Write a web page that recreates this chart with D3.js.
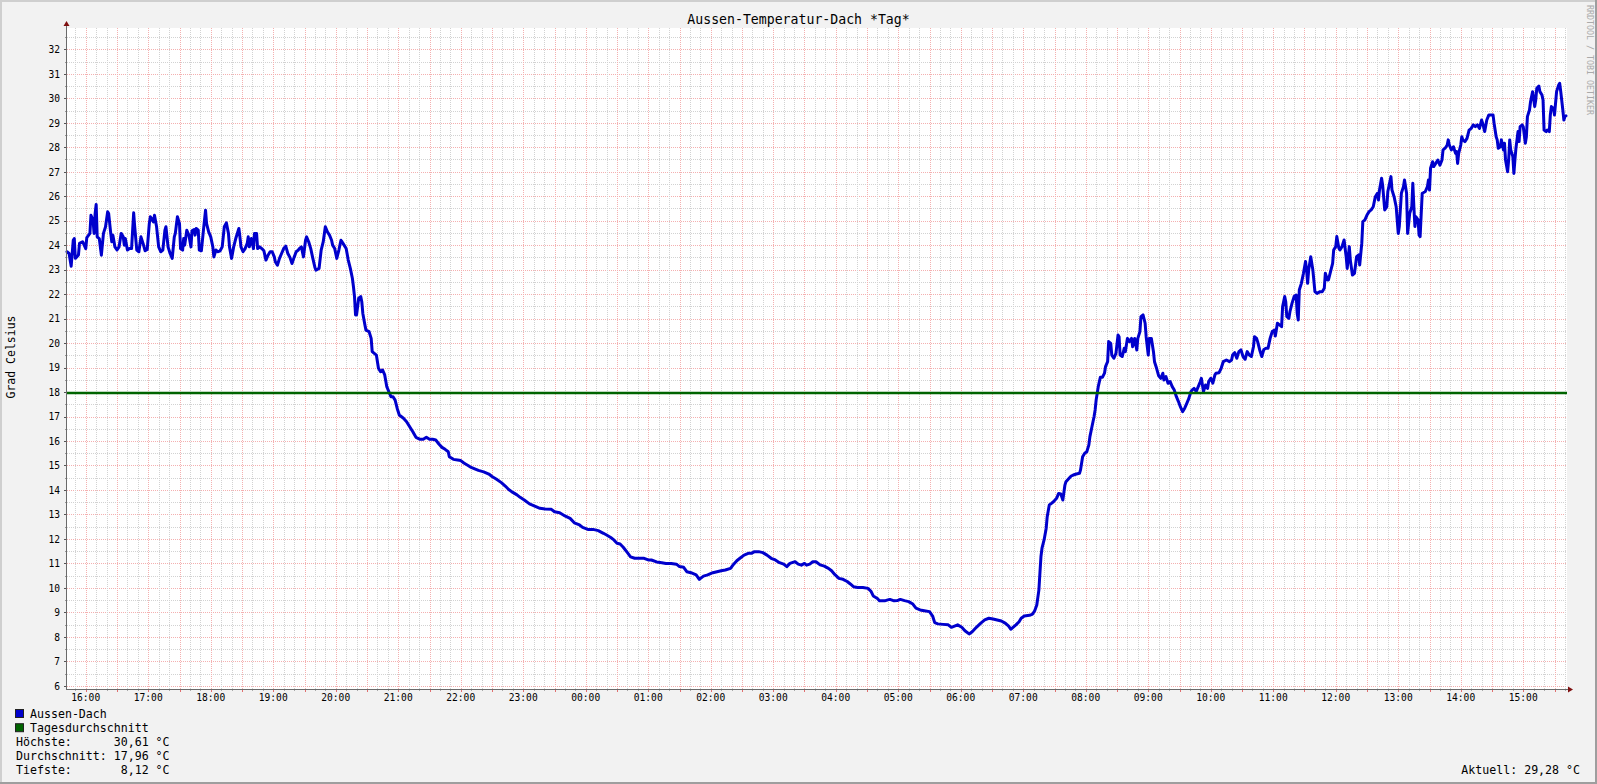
<!DOCTYPE html>
<html><head><meta charset="utf-8">
<script src="https://cdn.jsdelivr.net/npm/d3@7"></script>
<style>
html,body{margin:0;padding:0;background:#f2f2f2;overflow:hidden}
svg text{font-family:"DejaVu Sans Mono",monospace;}
</style></head><body>
<svg id="chart" width="1597" height="784"></svg>
<script>
// ---------------- data ----------------
const times = [
"15:42","15:44","15:46","15:48","15:49","15:50","15:53","15:54","15:57","16:00","16:01","16:04","16:05","16:07","16:08","16:09","16:10","16:11","16:13","16:15","16:17","16:19","16:21","16:22","16:24","16:25","16:26","16:28","16:30","16:32","16:34","16:36","16:37","16:38","16:40","16:42","16:44","16:45","16:46","16:47","16:49","16:51","16:53","16:55","16:57","16:59",
"17:01","17:02","17:05","17:06","17:08","17:10","17:12","17:14","17:16","17:17","17:19","17:21","17:23","17:25","17:26","17:28","17:30","17:31","17:33","17:34","17:35","17:37","17:39","17:41","17:42","17:44","17:45","17:46","17:48","17:49","17:51","17:53","17:55","17:56","17:58",
"18:00","18:02","18:03","18:05","18:07","18:09","18:11","18:13","18:15","18:17","18:18","18:20","18:22","18:24","18:27","18:28","18:29","18:31","18:33","18:35","18:36","18:37","18:39","18:41","18:42","18:44","18:45","18:47","18:49","18:51","18:53","18:55","18:57","18:59",
"19:01","19:02","19:04","19:06","19:08","19:10","19:12","19:14","19:16","19:18","19:20","19:22","19:24","19:25","19:27","19:29","19:31","19:32","19:34","19:36","19:38","19:40","19:41","19:44","19:46","19:48","19:50","19:52","19:54","19:56","19:57","19:59",
"20:01","20:03","20:05","20:06","20:08","20:10","20:12","20:14","20:16","20:17","20:18","20:19","20:20","20:22","20:24","20:25","20:26","20:28","20:29","20:32","20:34","20:35","20:37","20:39","20:41","20:43","20:45","20:47","20:49","20:51","20:53","20:55","20:57","20:59",
"21:01","21:05","21:08","21:11","21:14","21:17","21:21","21:24","21:27","21:30","21:33","21:36","21:39","21:42","21:45","21:48","21:49","21:53","21:57",
"22:00","22:03","22:07","22:10","22:14","22:17","22:22","22:27","22:30","22:34","22:39","22:43","22:46","22:50","22:54","22:57",
"23:01","23:06","23:11","23:16","23:21","23:27","23:30","23:35","23:40","23:45","23:49","23:54","23:57",
"00:02","00:07","00:12","00:17","00:20","00:24","00:27","00:30","00:33","00:36","00:40","00:43","00:47","00:52","00:56",
"01:00","01:03","01:08","01:13","01:17","01:22","01:27","01:30","01:34","01:37","01:41","01:46","01:49","01:53","01:57",
"02:02","02:06","02:10","02:14","02:19","02:22","02:25","02:28","02:32","02:36","02:39","02:42","02:46","02:50","02:54","02:58",
"03:02","03:06","03:10","03:13","03:16","03:21","03:24","03:27","03:30","03:32","03:35","03:38","03:41","03:45","03:49","03:53","03:56","03:59",
"04:03","04:07","04:11","04:14","04:17","04:21","04:26","04:31","04:34","04:36","04:40","04:42","04:47","04:50","04:52","04:56","04:59",
"05:02","05:06","05:10","05:14","05:17","05:21","05:25","05:30","05:33","05:35","05:38","05:43","05:48","05:51","05:54","05:57",
"06:01","06:04","06:08","06:11","06:15","06:19","06:23","06:27","06:31","06:35","06:39","06:43","06:46","06:48","06:51","06:53","06:56","06:58",
"07:01","07:06","07:09","07:11","07:13","07:15","07:16","07:17","07:18","07:20","07:22","07:23","07:25","07:27","07:29","07:32","07:34","07:36","07:38","07:40","07:41","07:44","07:46","07:48","07:51","07:54","07:55","07:57","07:59",
"08:01","08:03","08:04","08:06","08:08","08:09","08:10","08:12","08:14","08:16","08:18","08:19","08:21","08:22","08:24","08:25","08:27","08:29","08:31","08:32","08:33","08:35","08:37","08:38","08:40","08:42","08:44","08:45","08:47","08:49","08:50","08:52","08:53","08:55","08:57","08:58",
"09:00","09:01","09:03","09:05","09:06","09:08","09:10","09:12","09:14","09:15","09:17","09:19","09:21","09:23","09:25","09:27","09:29","09:31","09:33","09:35","09:37","09:39","09:41","09:42","09:44","09:46","09:48","09:50","09:51","09:53","09:55","09:57","09:58",
"10:00","10:02","10:04","10:05","10:08","10:10","10:12","10:15","10:18","10:20","10:21","10:23","10:25","10:27","10:29","10:31","10:33","10:35","10:37","10:39","10:41","10:42","10:44","10:45","10:47","10:49","10:51","10:53","10:55","10:57","10:59",
"11:01","11:02","11:04","11:06","11:08","11:09","11:11","11:12","11:13","11:15","11:16","11:18","11:20","11:22","11:23","11:24","11:25","11:27","11:29","11:31","11:32","11:33","11:34","11:36","11:38","11:40","11:42","11:45","11:47","11:49","11:50","11:52","11:53","11:55","11:57","11:58",
"12:00","12:01","12:03","12:04","12:06","12:08","12:10","12:11","12:13","12:14","12:16","12:18","12:20","12:22","12:23","12:25","12:26","12:28","12:30","12:32","12:34","12:36","12:38","12:40","12:41","12:42","12:44","12:45","12:47","12:49","12:50","12:53","12:54","12:56","12:58",
"13:00","13:01","13:03","13:05","13:06","13:08","13:09","13:11","13:13","13:14","13:15","13:16","13:17","13:19","13:20","13:21","13:23","13:24","13:26","13:28","13:29","13:30","13:31","13:33","13:34","13:36","13:38","13:40","13:42","13:43","13:45","13:47","13:48","13:49","13:51","13:53","13:55","13:56","13:57","13:58",
"14:00","14:01","14:02","14:04","14:06","14:08","14:10","14:12","14:14","14:16","14:18","14:20","14:21","14:23","14:25","14:27","14:29","14:31","14:32","14:34","14:35","14:36","14:38","14:39","14:41","14:42","14:43","14:45","14:46","14:47","14:48","14:50","14:51","14:52","14:53","14:55","14:56","14:57","14:59",
"15:00","15:02","15:03","15:04","15:06","15:07","15:08","15:09","15:11","15:12","15:13","15:15","15:16","15:18","15:19","15:20","15:22","15:23","15:25","15:26","15:27","15:29","15:30","15:31","15:32","15:34","15:35","15:36","15:38","15:39","15:40","15:41"
];
const temps = [
23.73,23.66,23.14,24.20,24.27,23.46,23.60,24.07,24.14,23.86,24.31,24.48,25.22,25.02,24.48,25.29,25.66,24.34,24.27,23.59,24.48,24.75,25.36,25.29,24.48,24.14,24.41,23.93,23.80,23.93,24.48,24.34,24.00,24.27,23.80,23.86,23.86,24.61,25.32,24.75,23.80,23.73,24.34,24.07,23.77,23.82,
24.88,25.16,24.95,25.22,24.75,23.93,23.73,23.80,24.61,24.75,23.93,23.66,23.46,24.34,24.48,25.16,24.88,23.86,23.80,24.27,24.00,24.61,24.41,23.93,24.59,24.64,24.41,24.68,24.61,23.80,23.77,24.61,25.43,24.88,24.54,
24.34,23.93,23.52,23.80,23.73,23.77,23.93,24.75,24.91,24.48,23.93,23.46,23.93,24.27,24.68,24.34,23.93,23.73,23.86,24.07,24.34,23.93,24.27,23.86,24.48,24.48,23.86,23.93,23.86,23.77,23.39,23.59,23.73,23.73,
23.52,23.32,23.18,23.46,23.66,23.86,23.96,23.66,23.50,23.25,23.50,23.73,23.80,23.86,23.93,23.52,24.20,24.34,24.14,23.86,23.46,23.09,22.98,23.05,23.80,24.14,24.75,24.54,24.41,24.20,24.00,23.86,
23.46,23.80,24.20,24.14,24.00,23.86,23.39,23.05,22.64,22.30,21.90,21.15,21.15,21.83,21.90,21.69,21.21,20.74,20.53,20.47,20.19,19.65,19.58,19.51,18.97,18.83,18.90,18.70,18.22,18.01,17.81,17.81,17.67,17.33,
17.06,16.93,16.79,16.58,16.38,16.15,16.07,16.07,16.15,16.07,16.07,16.04,15.88,15.74,15.66,15.56,15.36,15.25,15.22,
15.20,15.10,15.00,14.92,14.85,14.80,14.74,14.65,14.55,14.45,14.30,14.15,14.02,13.90,13.80,13.70,
13.59,13.43,13.34,13.25,13.22,13.21,13.11,13.07,12.94,12.84,12.66,12.57,12.47,
12.39,12.39,12.34,12.23,12.16,12.06,11.96,11.82,11.79,11.66,11.44,11.27,11.21,11.21,11.21,
11.14,11.14,11.06,11.03,11.00,11.00,10.97,10.87,10.84,10.66,10.62,10.53,10.35,10.48,10.53,
10.62,10.66,10.70,10.73,10.80,10.97,11.11,11.21,11.34,11.41,11.41,11.48,11.48,11.44,11.34,11.21,
11.14,11.03,10.97,10.87,11.00,11.07,10.97,10.93,11.00,10.93,10.97,11.07,11.07,10.94,10.89,10.80,10.70,10.55,
10.39,10.35,10.26,10.16,10.05,10.02,10.02,9.98,9.85,9.67,9.57,9.47,9.47,9.51,9.53,9.47,9.48,
9.53,9.48,9.44,9.34,9.17,9.10,9.07,9.03,8.85,8.58,8.53,8.51,8.49,8.39,8.44,8.49,
8.39,8.25,8.12,8.21,8.39,8.55,8.69,8.76,8.73,8.69,8.65,8.55,8.44,8.31,8.42,8.49,8.62,8.76,
8.85,8.88,8.93,9.07,9.30,9.91,10.60,11.28,11.62,11.96,12.43,12.91,13.39,13.45,13.52,13.66,13.86,13.84,13.59,14.20,14.34,14.48,14.57,14.61,14.65,14.68,14.82,15.36,15.50,
15.56,15.84,16.18,16.59,17.00,17.27,17.68,18.22,18.60,18.60,18.77,19.04,19.24,20.06,19.99,19.51,19.38,19.58,20.33,20.26,19.51,19.45,19.79,19.65,20.19,20.06,20.19,19.85,20.19,19.72,20.19,20.47,21.08,21.15,20.81,20.26,
19.51,20.19,20.19,19.65,19.24,18.97,18.66,18.56,18.77,18.49,18.63,18.36,18.43,18.22,18.08,17.81,17.61,17.38,17.20,17.34,17.54,17.74,18.02,18.08,18.15,18.02,18.22,18.43,18.56,18.02,18.29,18.15,18.43,
18.56,18.36,18.70,18.77,18.79,18.97,19.24,19.31,19.24,19.31,19.51,19.61,19.38,19.65,19.72,19.45,19.34,19.65,19.51,19.45,19.85,20.26,20.19,20.06,19.72,19.45,19.74,19.79,19.79,20.19,20.47,
20.53,20.29,20.81,20.74,20.67,21.49,21.90,21.69,21.08,21.01,21.28,21.62,21.90,21.96,21.21,20.94,22.17,22.44,22.85,23.33,22.99,22.44,22.99,23.53,22.99,22.10,22.03,22.10,22.10,22.24,22.85,22.58,22.58,22.92,23.26,23.80,
23.94,24.35,23.87,23.80,23.94,24.21,23.53,23.05,23.94,23.39,22.78,22.85,23.53,23.60,23.19,24.08,24.96,25.03,25.23,25.37,25.44,25.57,25.98,26.12,25.84,26.25,26.73,26.46,25.44,25.57,26.19,26.80,26.25,25.98,25.57,
24.48,24.76,26.12,26.39,26.66,26.12,24.48,25.30,25.57,26.53,25.57,24.76,25.16,25.03,24.41,24.35,26.12,26.14,26.19,26.39,26.66,26.25,27.14,27.41,27.21,27.34,27.48,27.27,27.48,27.89,27.96,28.09,28.30,28.09,27.89,28.02,27.75,27.82,27.34,27.75,
28.09,28.43,28.30,28.23,28.36,28.70,28.77,28.91,28.84,28.91,28.77,29.11,28.98,28.64,29.11,29.32,29.32,29.32,28.98,28.43,28.30,27.96,28.02,28.30,27.89,28.16,27.48,27.00,27.48,28.30,27.89,27.62,26.93,27.48,27.96,28.64,28.23,28.84,28.91,
28.84,28.16,28.43,29.25,29.52,29.86,30.07,30.27,29.66,29.93,30.41,30.50,30.27,30.13,29.93,28.70,28.64,28.70,28.64,29.32,29.66,29.59,29.32,29.79,30.27,30.54,30.61,30.27,29.52,29.11,29.25,29.28
];
const dailyAverage = 17.96;
const seriesNames = ["Aussen-Dach", "Tagesdurchschnitt"];
const seriesColors = ["#0000cc", "#006400"];
const statLabels = ["Höchste:", "Durchschnitt:", "Tiefste:"];
const statValues = ["30,61", "17,96", "8,12"];
const currentLabel = "Aktuell: ";
const currentValue = "29,28";
const unit = " °C";
const yTickValues = [6,7,8,9,10,11,12,13,14,15,16,17,18,19,20,21,22,23,24,25,26,27,28,29,30,31,32];
const titleText = "Aussen-Temperatur-Dach *Tag*";
const yAxisTitle = "Grad Celsius";
const watermark = "RRDTOOL / TOBI OETIKER";

// ---------------- layout ----------------
const W = 1597, H = 784;
const P = {left: 67, right: 1567, top: 28, bottom: 689};
const svg = d3.select("#chart");

const start = new Date(2024, 0, 1, 15, 42);
const end = new Date(2024, 0, 2, 15, 42);
let prev = -1, offset = 0;
const data = times.map((t, i) => {
  const [h, m] = t.split(":").map(Number);
  const mins = h * 60 + m;
  if (mins < prev) offset += 1440;
  prev = mins;
  return {date: new Date(2024, 0, 1, 0, mins + offset), value: temps[i]};
});

const x = d3.scaleTime().domain([start, end]).range([P.left, P.right]);
const y = d3.scaleLinear().domain([5.87, 32.87]).range([P.bottom, P.top]);
const px = v => Math.round(v) + 0.5;

// background + 3D border
svg.append("rect").attr("width", W).attr("height", H).attr("fill", "#f2f2f2");
svg.append("rect").attr("x", 0).attr("y", 0).attr("width", W).attr("height", 2).attr("fill", "#cfcfcf");
svg.append("rect").attr("x", 0).attr("y", 0).attr("width", 2).attr("height", H).attr("fill", "#cfcfcf");
svg.append("rect").attr("x", 0).attr("y", H - 2).attr("width", W).attr("height", 2).attr("fill", "#9e9e9e");
svg.append("rect").attr("x", W - 2).attr("y", 0).attr("width", 2).attr("height", H).attr("fill", "#9e9e9e");

// canvas
svg.append("rect").attr("x", P.left).attr("y", P.top).attr("width", P.right - P.left).attr("height", P.bottom - P.top).attr("fill", "#ffffff");

const grid = svg.append("g").attr("shape-rendering", "crispEdges");
const minorCol = "#d2d2d2", majorCol = "#f4b0b0";

// horizontal grid
const yMinor = d3.range(6, 33, 1).map(v => v + 0.5).filter(v => y(v) > P.top);
grid.selectAll(".hmin").data(yMinor).join("line")
  .attr("x1", P.left).attr("x2", P.right).attr("y1", d => px(y(d))).attr("y2", d => px(y(d)))
  .attr("stroke", minorCol).attr("stroke-dasharray", "1,1");
grid.selectAll(".hmaj").data(yTickValues).join("line")
  .attr("x1", P.left).attr("x2", P.right).attr("y1", d => px(y(d))).attr("y2", d => px(y(d)))
  .attr("stroke", majorCol).attr("stroke-dasharray", "1,1");

// vertical grid
const tenMin = d3.timeMinute.every(10).range(start, end);
const vMinor = tenMin.filter(d => d.getMinutes() % 30 !== 0);
const vMajor = tenMin.filter(d => d.getMinutes() % 30 === 0);
grid.selectAll(".vmin").data(vMinor).join("line")
  .attr("x1", d => px(x(d))).attr("x2", d => px(x(d))).attr("y1", P.top).attr("y2", P.bottom)
  .attr("stroke", minorCol).attr("stroke-dasharray", "1,1");
grid.selectAll(".vmaj").data(vMajor).join("line")
  .attr("x1", d => px(x(d))).attr("x2", d => px(x(d))).attr("y1", P.top).attr("y2", P.bottom)
  .attr("stroke", majorCol).attr("stroke-dasharray", "1,1");

// tick marks
grid.selectAll(".ytk").data(yTickValues).join("line")
  .attr("x1", P.left - 3).attr("x2", P.left).attr("y1", d => px(y(d))).attr("y2", d => px(y(d)))
  .attr("stroke", "#555");
grid.selectAll(".ytk2").data(yMinor).join("line")
  .attr("x1", P.left - 2).attr("x2", P.left).attr("y1", d => px(y(d))).attr("y2", d => px(y(d)))
  .attr("stroke", "#999");
grid.selectAll(".xtk").data(vMajor).join("line")
  .attr("x1", d => px(x(d))).attr("x2", d => px(x(d))).attr("y1", P.bottom).attr("y2", P.bottom + 3)
  .attr("stroke", "#e07070");
grid.selectAll(".xtk2").data(vMinor).join("line")
  .attr("x1", d => px(x(d))).attr("x2", d => px(x(d))).attr("y1", P.bottom).attr("y2", P.bottom + 2)
  .attr("stroke", "#aaa");

// data line
const line = d3.line().x(d => x(d.date)).y(d => y(d.value));
svg.append("path").datum(data).attr("d", line)
  .attr("fill", "none").attr("stroke", seriesColors[0]).attr("stroke-width", 3)
  .attr("stroke-linejoin", "round").attr("stroke-linecap", "round");

// daily average line
svg.append("line").attr("x1", P.left).attr("x2", P.right)
  .attr("y1", y(dailyAverage)).attr("y2", y(dailyAverage))
  .attr("stroke", seriesColors[1]).attr("stroke-width", 2.4);

// axes
const axis = svg.append("g");
axis.append("line").attr("x1", px(P.left - 1)).attr("x2", px(P.left - 1)).attr("y1", P.bottom + 1).attr("y2", P.top - 4)
  .attr("stroke", "#6a6a6a").attr("shape-rendering", "crispEdges");
axis.append("line").attr("x1", P.left - 1).attr("x2", P.right + 2).attr("y1", px(P.bottom)).attr("y2", px(P.bottom))
  .attr("stroke", "#6a6a6a").attr("shape-rendering", "crispEdges");
axis.append("path").attr("d", `M${P.left - 3.5},${P.top - 2} L${P.left + 2.5},${P.top - 2} L${P.left - 0.5},${P.top - 7} Z`).attr("fill", "#7f1010");
axis.append("path").attr("d", `M${P.right + 1},${P.bottom - 2.5} L${P.right + 1},${P.bottom + 3.5} L${P.right + 6},${P.bottom + 0.5} Z`).attr("fill", "#7f1010");

// y tick labels
svg.append("g").selectAll("text").data(yTickValues).join("text")
  .attr("x", 60).attr("y", d => y(d) + 3.8).attr("text-anchor", "end")
  .attr("font-size", 9.6).attr("fill", "#000").text(d => d);

// x tick labels
const hours = d3.timeHour.range(start, end);
svg.append("g").selectAll("text").data(hours).join("text")
  .attr("x", d => x(d)).attr("y", 701).attr("text-anchor", "middle")
  .attr("font-size", 9.6).attr("fill", "#000").text(d3.timeFormat("%H:%M"));

// title
svg.append("text").attr("x", W / 2).attr("y", 23.5).attr("text-anchor", "middle")
  .attr("font-size", 13.2).attr("fill", "#000").text(titleText);

// y axis title
svg.append("text").attr("transform", "translate(14.5,357) rotate(-90)").attr("text-anchor", "middle")
  .attr("font-size", 11.5).attr("fill", "#000").text(yAxisTitle);

// watermark
svg.append("text").attr("transform", "translate(1587,5) rotate(90)").attr("text-anchor", "start")
  .attr("font-size", 8.3).attr("fill", "#aaaaaa").text(watermark);

// legend
const legend = svg.append("g");
seriesNames.forEach((name, i) => {
  const base = 717.5 + i * 14.2;
  legend.append("rect").attr("x", 15.5).attr("y", base - 8).attr("width", 8).attr("height", 8)
    .attr("fill", seriesColors[i]).attr("stroke", "#222").attr("stroke-width", 1);
  legend.append("text").attr("x", 30).attr("y", base).attr("font-size", 11.6).attr("fill", "#000").text(name);
});
statLabels.forEach((lab, i) => {
  const base = 746 + i * 14;
  legend.append("text").attr("x", 16).attr("y", base).attr("font-size", 11.6).attr("fill", "#000")
    .attr("xml:space", "preserve").style("white-space", "pre")
    .text(lab.padEnd(13, " ") + statValues[i].padStart(6, " ") + unit);
});
legend.append("text").attr("x", 1580).attr("y", 774).attr("text-anchor", "end")
  .attr("font-size", 11.6).attr("fill", "#000").style("white-space", "pre")
  .text(currentLabel + currentValue + unit);
</script>
</body></html>
